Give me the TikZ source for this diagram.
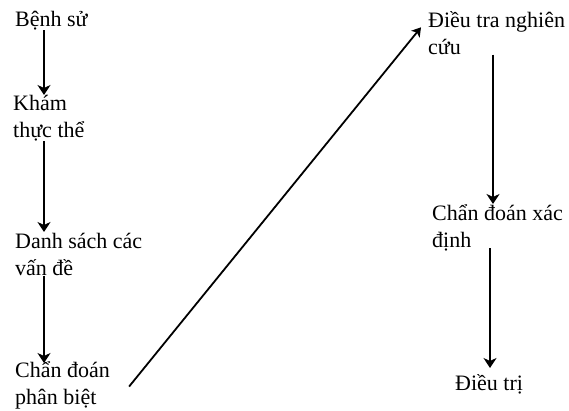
\documentclass[tikz,border=0pt]{standalone}
\usepackage{fontspec}
\setmainfont{Liberation Serif}
\usetikzlibrary{arrows.meta}
\newcommand\tstrut{\rule{0pt}{20pt}}
\tikzset{
  lbl/.style={anchor=north west, inner sep=0pt, align=left, font=\fontsize{22}{27}\selectfont},
  varr/.style={line width=2.6pt, -{Stealth[length=10pt,width=13pt,inset=3pt]}},
  darr/.style={line width=1.8pt, -{Stealth[length=9pt,width=11pt,inset=2.5pt]}}
}
\begin{document}
\begin{tikzpicture}[x=1pt,y=-1pt]
\useasboundingbox (0,0) rectangle (569,410);
\node[lbl] (bs) at (15,6) {\tstrut Bệnh sử};
\node[lbl] (kt) at (13,90) {\tstrut Khám\\thực thể};
\node[lbl] (ds) at (15,228) {\tstrut Danh sách các\\vấn đề};
\node[lbl] (cpb) at (15,357) {\tstrut Chẩn đoán\\phân biệt};
\node[lbl] (dtr) at (428,7) {\tstrut Điều tra nghiên\\cứu};
\node[lbl] (cxd) at (432,200) {\tstrut Chẩn đoán xác\\định};
\node[lbl] (dt) at (455,370) {\tstrut Điều trị};
\coordinate (xl) at (44,0);
\coordinate (xr1) at (493,0);
\coordinate (xr2) at (490,0);
\draw[varr, shorten >=-5pt] (bs.south -| xl) -- (kt.north -| xl);
\draw[varr, shorten >=-4pt] (kt.south -| xl) -- (ds.north -| xl);
\draw[varr, shorten >=-6pt] (ds.south -| xl) -- (cpb.north -| xl);
\draw[darr] ([shift={(19,3.5)}]cpb.east) -- ([shift={(-7,-3.5)}]dtr.west);
\draw[varr, shorten >=-4pt] (dtr.south -| xr1) -- (cxd.north -| xr1);
\draw[varr, shorten <=-3pt, shorten >=2pt] (cxd.south -| xr2) -- (dt.north -| xr2);
\end{tikzpicture}
\end{document}
